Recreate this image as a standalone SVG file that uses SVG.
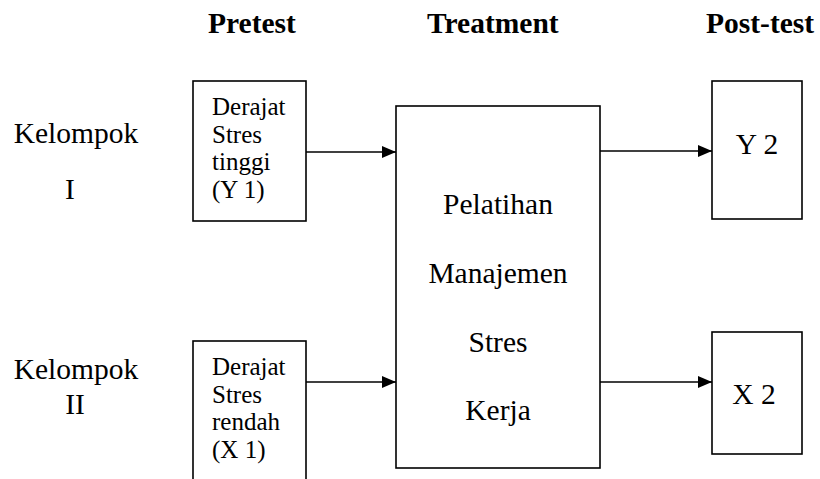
<svg xmlns="http://www.w3.org/2000/svg" width="820" height="479" viewBox="0 0 820 479">
<style>
text{font-family:'Liberation Serif','Times New Roman',Times,serif;fill:#000}
.h{font-size:29.5px;font-weight:bold}
.m{font-size:29.5px}
.s{font-size:25px}
.box{fill:#fff;stroke:#000;stroke-width:1.6}
.ln{stroke:#000;stroke-width:1.6;fill:none}
</style>
<defs>
<marker id="ah" markerWidth="14" markerHeight="12" refX="14" refY="6" orient="auto" markerUnits="userSpaceOnUse">
<path d="M0,0 L14,6 L0,12 z" fill="#000"/>
</marker>
</defs>
<rect width="820" height="479" fill="#fff"/>
<g id="headers">
<text class="h" x="208" y="33">Pretest</text>
<text class="h" x="427" y="33">Treatment</text>
<text class="h" x="706" y="33">Post-test</text>
</g>
<g id="group-labels">
<text class="m" x="76" y="143" text-anchor="middle">Kelompok</text>
<text class="m" x="70" y="199" text-anchor="middle">I</text>
<text class="m" x="76" y="379" text-anchor="middle">Kelompok</text>
<text class="m" x="75" y="414" text-anchor="middle">II</text>
</g>
<g id="pre1">
<rect class="box" x="193" y="81" width="113" height="140"/>
<text class="s" x="212" y="115">Derajat</text>
<text class="s" x="212" y="143">Stres</text>
<text class="s" x="212" y="170">tinggi</text>
<text class="s" x="212" y="198">(Y 1)</text>
</g>
<g id="pre2">
<rect class="box" x="193" y="341" width="113" height="150"/>
<text class="s" x="212" y="375">Derajat</text>
<text class="s" x="212" y="403">Stres</text>
<text class="s" x="212" y="430">rendah</text>
<text class="s" x="212" y="458">(X 1)</text>
</g>
<g id="treatment">
<rect class="box" x="396" y="106" width="204" height="362"/>
<text class="m" x="498" y="214" text-anchor="middle">Pelatihan</text>
<text class="m" x="498" y="283" text-anchor="middle">Manajemen</text>
<text class="m" x="498" y="352" text-anchor="middle">Stres</text>
<text class="m" x="498" y="420" text-anchor="middle">Kerja</text>
</g>
<g id="post1">
<rect class="box" x="712" y="81" width="90" height="138"/>
<text class="m" x="757" y="154" text-anchor="middle">Y 2</text>
</g>
<g id="post2">
<rect class="box" x="712" y="332" width="90" height="122"/>
<text class="m" x="754" y="404" text-anchor="middle">X 2</text>
</g>
<g id="connectors">
<line class="ln" x1="306" y1="152" x2="396" y2="152" marker-end="url(#ah)"/>
<line class="ln" x1="306" y1="382" x2="396" y2="382" marker-end="url(#ah)"/>
<line class="ln" x1="600" y1="151" x2="712" y2="151" marker-end="url(#ah)"/>
<line class="ln" x1="600" y1="382" x2="712" y2="382" marker-end="url(#ah)"/>
</g>
</svg>
